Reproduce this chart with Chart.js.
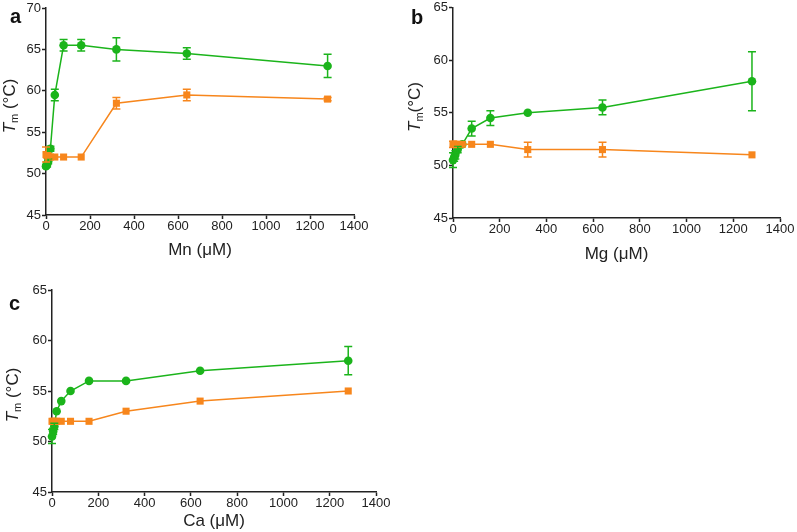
<!DOCTYPE html>
<html>
<head>
<meta charset="utf-8">
<script src="https://cdn.jsdelivr.net/npm/chart.js@4.4.1/dist/chart.umd.min.js"></script>
<style>
  body { margin: 0; background: #fff; width: 797px; height: 532px; position: relative; overflow: hidden;
         font-family: "Liberation Sans", Arial, sans-serif; color: #222; }
  canvas { position: absolute; }
  .letter { position: absolute; font-weight: bold; font-size: 20px; line-height: 20px; color: #111; }
  .ytitle { position: absolute; transform: translate(-50%, -50%) rotate(-90deg); font-size: 17px;
            white-space: nowrap; line-height: 20px; }
  .ytitle sub { font-size: 11px; vertical-align: -3px; }
</style>
</head>
<body>
<canvas id="chart-a" width="400" height="265" style="left:0;top:0"></canvas>
<canvas id="chart-b" width="397" height="270" style="left:400px;top:0"></canvas>
<canvas id="chart-c" width="400" height="262" style="left:0;top:270px"></canvas>

<div class="letter" style="left:10px;top:6px">a</div>
<div class="letter" style="left:411px;top:7px">b</div>
<div class="letter" style="left:9px;top:293px">c</div>

<div class="ytitle" style="left:12px;top:106px"><i>T</i><sub>m</sub> (°C)</div>
<div class="ytitle" style="left:417px;top:107px"><i>T</i><sub>m</sub>(°C)</div>
<div class="ytitle" style="left:15px;top:395px"><i>T</i><sub>m</sub> (°C)</div>

<script>
const CONC = [0, 5, 10, 20, 40, 80, 160, 320, 640, 1280];
const X_TICK_STEP = 200;

const MN_GREEN = [50.9, 51.1, 51.5, 53, 59.5, 65.5, 65.5, 65, 64.5, 63];
const MN_GREEN_ERR = [0.2, 0.3, 0.3, 0.3, 0.7, 0.7, 0.7, 1.4, 0.7, 1.4];
const MN_ORANGE = [52.3, 52.2, 52.1, 52, 52, 52, 52, 58.5, 59.5, 59];
const MN_ORANGE_ERR = [0.9, 0.3, 0.2, 0, 0, 0, 0, 0.7, 0.7, 0.2];

const MG_GREEN = [50.5, 50.8, 51, 51.5, 52, 53.5, 54.5, 55, 55.5, 58];
const MG_GREEN_ERR = [0.7, 0.4, 0.4, 0.3, 0, 0.7, 0.7, 0, 0.7, 2.8];
const MG_ORANGE = [52, 52, 52, 52, 52, 52, 52, 51.5, 51.5, 51];
const MG_ORANGE_ERR = [0.3, 0, 0, 0, 0, 0, 0, 0.7, 0.7, 0];

const CA_GREEN = [50.5, 51, 51.5, 53, 54, 55, 56, 56, 57, 58];
const CA_GREEN_ERR = [0.7, 0.3, 0.3, 0, 0, 0, 0, 0, 0, 1.4];
const CA_ORANGE = [52, 52, 52, 52, 52, 52, 52, 53, 54, 55];
const CA_ORANGE_ERR = [0, 0, 0, 0, 0, 0, 0, 0, 0, 0];

const GREEN = '#1bb41b';
const ORANGE = '#f7861c';
const AXIS = '#222';
const FONT = '"Liberation Sans", Arial, sans-serif';

// vertical error bars with caps, placed through the chart scales
const errorBars = {
  id: 'errorBars',
  afterDatasetsDraw(chart) {
    const { ctx, scales: { x, y } } = chart;
    chart.data.datasets.forEach((ds) => {
      if (!ds.errors) return;
      ctx.save();
      ctx.strokeStyle = ds.borderColor;
      ctx.lineWidth = 1.5;
      ds.data.forEach((pt, j) => {
        const e = ds.errors[j];
        if (!e) return;
        const px = x.getPixelForValue(pt.x);
        const top = y.getPixelForValue(pt.y + e);
        const bot = y.getPixelForValue(pt.y - e);
        ctx.beginPath();
        ctx.moveTo(px, top); ctx.lineTo(px, bot);
        ctx.moveTo(px - 4, top); ctx.lineTo(px + 4, top);
        ctx.moveTo(px - 4, bot); ctx.lineTo(px + 4, bot);
        ctx.stroke();
      });
      ctx.restore();
    });
  }
};

function series(values, errors, color, style, order) {
  return {
    data: CONC.map((c, i) => ({ x: c, y: values[i] })),
    errors,
    showLine: true,
    borderColor: color,
    backgroundColor: color,
    borderWidth: 1.5,
    pointStyle: style,
    pointRadius: style === 'rect' ? 5 : 4.3,
    pointBorderWidth: 0,
    clip: false,
    order,
  };
}

function makePanel(id, xTitle, yMax, green, greenErr, orange, orangeErr, geom) {
  new Chart(document.getElementById(id), {
    type: 'scatter',
    data: {
      datasets: [
        series(green, greenErr, GREEN, 'circle', 1),
        series(orange, orangeErr, ORANGE, 'rect', 0),
      ],
    },
    options: {
      responsive: false,
      animation: false,
      layout: { padding: { left: 0, top: geom.top, right: geom.right, bottom: 0 } },
      plugins: { legend: { display: false }, tooltip: { enabled: false } },
      scales: {
        x: {
          type: 'linear', min: 0, max: 1400,
          afterFit: (s) => { s.height = geom.xHeight; },
          border: { display: true, color: AXIS, width: 1.5 },
          grid: { drawOnChartArea: false, drawTicks: true, tickLength: 4, tickColor: AXIS, tickWidth: 1.5 },
          ticks: { stepSize: X_TICK_STEP, autoSkip: false, maxRotation: 0, padding: 1, color: AXIS,
                   callback: (v) => String(v),
                   font: { family: FONT, size: 13, lineHeight: 1 } },
          title: { display: true, text: xTitle, color: AXIS, padding: { top: 0, bottom: geom.titlePad },
                   font: { family: FONT, size: 17 } },
        },
        y: {
          min: 45, max: yMax,
          afterFit: (s) => { s.width = geom.yWidth; },
          border: { display: true, color: AXIS, width: 1.5 },
          grid: { drawOnChartArea: false, drawTicks: true, tickLength: 4, tickColor: AXIS, tickWidth: 1.5 },
          ticks: { stepSize: 5, padding: 1, color: AXIS, callback: (v) => String(v),
                   font: { family: FONT, size: 13, lineHeight: 1 } },
        },
      },
    },
    plugins: [errorBars],
  });
}

makePanel('chart-a', 'Mn (\u03bcM)', 70, MN_GREEN, MN_GREEN_ERR, MN_ORANGE, MN_ORANGE_ERR,
  { top: 8, right: 46, yWidth: 46, xHeight: 50, titlePad: 4 });
makePanel('chart-b', 'Mg (\u03bcM)', 65, MG_GREEN, MG_GREEN_ERR, MG_ORANGE, MG_ORANGE_ERR,
  { top: 7, right: 17, yWidth: 53, xHeight: 52, titlePad: 5 });
makePanel('chart-c', 'Ca (\u03bcM)', 65, CA_GREEN, CA_GREEN_ERR, CA_ORANGE, CA_ORANGE_ERR,
  { top: 20, right: 24, yWidth: 52, xHeight: 40, titlePad: 0 });
</script>
</body>
</html>
